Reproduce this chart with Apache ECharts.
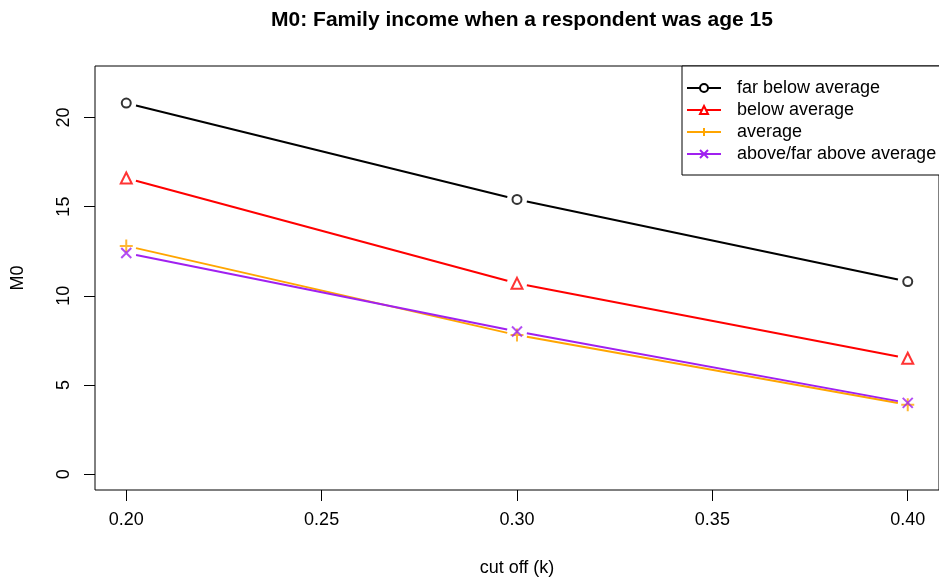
<!DOCTYPE html>
<html>
<head>
<meta charset="utf-8">
<script src="https://cdn.jsdelivr.net/npm/echarts@6/dist/echarts.min.js"></script>
<style>
  html, body { margin: 0; padding: 0; background: #fff; }
  #chart { width: 939px; height: 582px; }
</style>
</head>
<body>
<div id="chart"></div>
<script>
// Poverty cut-off values on the x axis
const cutoffs = [0.20, 0.30, 0.40];
// M0 per family-income group
const farBelow = [20.8, 15.4, 10.8];
const below = [16.6, 10.7, 6.5];
const average = [12.8, 7.8, 3.9];
const above = [12.4, 8.0, 4.0];

const groupNames = ['far below average', 'below average', 'average', 'above/far above average'];
const xTicks = [0.20, 0.25, 0.30, 0.35, 0.40];
const yTicks = [0, 5, 10, 15, 20];

const FONT = "'Liberation Sans', Arial, Helvetica, sans-serif";
const PLUS = 'path://M6,0 L6,12 M0,6 L12,6';
const CROSS = 'path://M0,0 L10,10 M0,10 L10,0';
const GAP = 10; // px left blank around each point on the connecting lines

const groups = [
  { name: groupNames[0], data: farBelow, color: '#000000', symbol: 'emptyCircle', size: 9 },
  { name: groupNames[1], data: below, color: '#ff0000', symbol: 'emptyTriangle', size: 11 },
  { name: groupNames[2], data: average, color: '#ffa500', symbol: PLUS, size: 13 },
  { name: groupNames[3], data: above, color: '#a020f0', symbol: CROSS, size: 10 }
];

const pairs = arr => cutoffs.map((c, i) => [c, arr[i]]);
const segments = arr => cutoffs.slice(1).map((c, i) => [cutoffs[i], arr[i], c, arr[i + 1]]);
const markerStyle = g => g.symbol.startsWith('path')
  ? { color: 'rgba(0,0,0,0)', borderColor: g.color, borderWidth: 2 }
  : { color: g.color, borderColor: g.color, borderWidth: 2 };

const series = [];
// legend entries (line + symbol icon)
groups.forEach(g => {
  series.push({
    type: 'line', name: g.name, data: [],
    color: g.color,
    symbol: g.symbol, symbolSize: g.size,
    lineStyle: { color: g.color, width: 2 },
    itemStyle: markerStyle(g),
    silent: true
  });
});
// connecting segments, broken around each point
groups.forEach(g => {
  series.push({
    type: 'custom', data: segments(g.data), z: 2, silent: true,
    encode: { x: [0, 2], y: [1, 3] },
    renderItem: (params, api) => {
      const a = api.coord([api.value(0), api.value(1)]);
      const b = api.coord([api.value(2), api.value(3)]);
      const dx = b[0] - a[0], dy = b[1] - a[1];
      const len = Math.sqrt(dx * dx + dy * dy);
      if (len <= 2 * GAP) return null;
      const ux = dx / len, uy = dy / len;
      return {
        type: 'line',
        shape: { x1: a[0] + ux * GAP, y1: a[1] + uy * GAP, x2: b[0] - ux * GAP, y2: b[1] - uy * GAP },
        style: { stroke: g.color, lineWidth: 2 }
      };
    }
  });
});
// point markers
groups.forEach(g => {
  series.push({
    type: 'scatter', data: pairs(g.data), z: 4,
    symbol: g.symbol, symbolSize: g.size,
    itemStyle: markerStyle(g),
    silent: true
  });
});

const chart = echarts.init(document.getElementById('chart'), null, { renderer: 'canvas' });
chart.setOption({
  animation: false,
  backgroundColor: '#ffffff',
  textStyle: { fontFamily: FONT },
  graphic: [{
    type: 'text', silent: true,
    x: 522, y: 10,
    style: {
      text: 'M0: Family income when a respondent was age 15',
      font: "bold 21px 'Liberation Sans', Arial, Helvetica, sans-serif",
      fill: '#000', align: 'center', verticalAlign: 'top'
    }
  }],
  grid: {
    left: 95, top: 66, right: -2, bottom: 91,
    show: true, borderColor: '#000', borderWidth: 1, backgroundColor: 'transparent'
  },
  legend: {
    data: groupNames,
    orient: 'vertical',
    left: 682, top: 66,
    padding: [13, 14, 12, 4],
    itemWidth: 34, itemHeight: 10, itemGap: 4,
    backgroundColor: '#ffffff', borderColor: '#000', borderWidth: 1, borderRadius: 0,
    textStyle: { fontSize: 18, color: '#000', fontFamily: FONT, lineHeight: 18, padding: [0, 0, 0, 11] },
    selectedMode: false
  },
  xAxis: {
    type: 'value', min: 0.192, max: 0.408,
    name: 'cut off (k)', nameLocation: 'middle', nameGap: 69,
    nameTextStyle: { fontSize: 18, color: '#000', fontFamily: FONT },
    axisLine: { show: false, onZero: false },
    axisTick: { show: true, length: 11, inside: false, customValues: xTicks, lineStyle: { color: '#000', width: 1 } },
    axisLabel: { customValues: xTicks, fontSize: 18, color: '#000', margin: 21, formatter: v => v.toFixed(2) },
    splitLine: { show: false }
  },
  yAxis: {
    type: 'value', min: -0.88, max: 22.88,
    name: 'M0', nameLocation: 'middle', nameGap: 68, nameRotate: 90,
    nameTextStyle: { fontSize: 18, color: '#000', fontFamily: FONT },
    axisLine: { show: false, onZero: false },
    axisTick: { show: true, length: 11, inside: false, customValues: yTicks, lineStyle: { color: '#000', width: 1 } },
    axisLabel: { customValues: yTicks, fontSize: 18, color: '#000', margin: 22, rotate: 90 },
    splitLine: { show: false }
  },
  series: series
});
</script>
</body>
</html>
